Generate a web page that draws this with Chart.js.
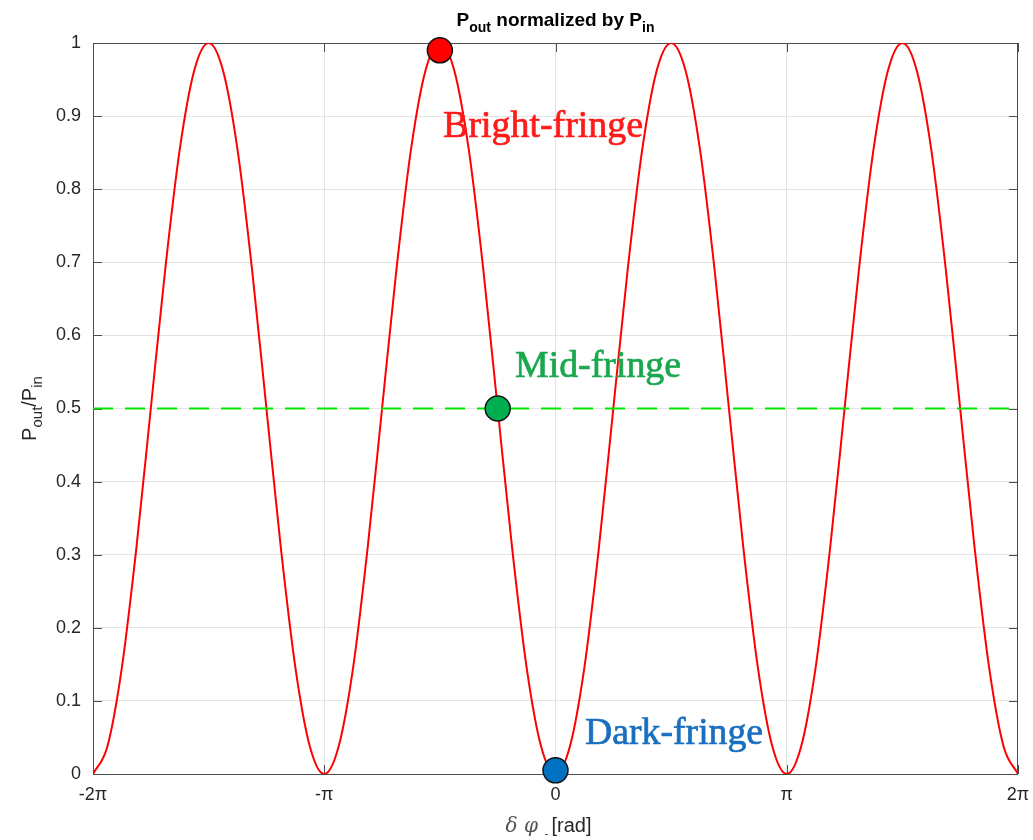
<!DOCTYPE html>
<html>
<head>
<meta charset="utf-8">
<script src="https://cdn.jsdelivr.net/npm/chart.js@4.4.1/dist/chart.umd.min.js"></script>
<style>
  html, body { margin: 0; padding: 0; background: #fff; }
  #wrap { width: 1033px; height: 840px; }
</style>
</head>
<body>
<div id="wrap"><canvas id="fringeChart" width="1033" height="840"></canvas></div>
<script>
// phase in units of pi, sampled every pi/16
var phase = [
  -2, -1.9375, -1.875, -1.8125, -1.75, -1.6875, -1.625, -1.5625,
  -1.5, -1.4375, -1.375, -1.3125, -1.25, -1.1875, -1.125, -1.0625,
  -1, -0.9375, -0.875, -0.8125, -0.75, -0.6875, -0.625, -0.5625,
  -0.5, -0.4375, -0.375, -0.3125, -0.25, -0.1875, -0.125, -0.0625,
  0, 0.0625, 0.125, 0.1875, 0.25, 0.3125, 0.375, 0.4375,
  0.5, 0.5625, 0.625, 0.6875, 0.75, 0.8125, 0.875, 0.9375,
  1, 1.0625, 1.125, 1.1875, 1.25, 1.3125, 1.375, 1.4375,
  1.5, 1.5625, 1.625, 1.6875, 1.75, 1.8125, 1.875, 1.9375, 2
];
var power = [
  0, 0.038, 0.146, 0.309, 0.5, 0.691, 0.854, 0.962,
  1, 0.962, 0.854, 0.691, 0.5, 0.309, 0.146, 0.038,
  0, 0.038, 0.146, 0.309, 0.5, 0.691, 0.854, 0.962,
  1, 0.962, 0.854, 0.691, 0.5, 0.309, 0.146, 0.038,
  0, 0.038, 0.146, 0.309, 0.5, 0.691, 0.854, 0.962,
  1, 0.962, 0.854, 0.691, 0.5, 0.309, 0.146, 0.038,
  0, 0.038, 0.146, 0.309, 0.5, 0.691, 0.854, 0.962,
  1, 0.962, 0.854, 0.691, 0.5, 0.309, 0.146, 0.038, 0
];

var midLevelX = [-2, 2];
var midLevelY = [0.5, 0.5];

var markerNames = ['Bright-fringe', 'Mid-fringe', 'Dark-fringe'];
var markerX = [-0.5, -0.25, 0];
var markerY = [0.99, 0.5, 0.005];
var markerColors = ['#ff0000', '#00b050', '#0070c0'];
var labelColors = ['#ff1a1a', '#1aa84f', '#1a6fbf'];
// where each label starts (phase, power)
var labelX = [-0.486, -0.175, 0.128];
var labelY = [0.871, 0.543, 0.041];
var labelWidths = [200, 166, 178];

var xTicks = [-2, -1, 0, 1, 2];
var xTickLabels = ['-2\u03c0', '-\u03c0', '0', '\u03c0', '2\u03c0'];
var yTicks = [0, 0.1, 0.2, 0.3, 0.4, 0.5, 0.6, 0.7, 0.8, 0.9, 1];

function toPoints(xs, ys) {
    var pts = [];
    for (var i = 0; i < xs.length; i++) {
        pts.push({ x: xs[i], y: ys[i] });
    }
    return pts;
}

var markerSets = [];
for (var m = 0; m < markerNames.length; m++) {
    markerSets.push({
        label: markerNames[m],
        data: [{ x: markerX[m], y: markerY[m] }],
        showLine: false,
        order: 0,
        pointRadius: 12.5,
        pointBackgroundColor: markerColors[m],
        pointBorderColor: '#111',
        pointBorderWidth: 1.5,
        clip: false
    });
}

var axisText = '#262626';

// box and inward ticks go under the data, text goes on top
var decorPlugin = {
    id: 'decor',
    beforeDatasetsDraw: function(chart) {
        var ctx = chart.ctx;
        var a = chart.chartArea;
        var xs = chart.scales.x;
        var ys = chart.scales.y;
        ctx.save();
        ctx.strokeStyle = '#4d4d4d';
        ctx.lineWidth = 1;
        ctx.strokeRect(a.left + 0.5, a.top + 0.5, a.right - a.left - 1, a.bottom - a.top);

        ctx.beginPath();
        for (var i = 0; i < xTicks.length; i++) {
            var px = Math.round(xs.getPixelForValue(xTicks[i])) + 0.5;
            ctx.moveTo(px, a.bottom); ctx.lineTo(px, a.bottom - 9);
            ctx.moveTo(px, a.top); ctx.lineTo(px, a.top + 9);
        }
        for (var j = 0; j < yTicks.length; j++) {
            var py = Math.round(ys.getPixelForValue(yTicks[j])) + 0.5;
            ctx.moveTo(a.left, py); ctx.lineTo(a.left + 9, py);
            ctx.moveTo(a.right, py); ctx.lineTo(a.right - 9, py);
        }
        ctx.stroke();
        ctx.restore();
    },
    afterDraw: function(chart) {
        var ctx = chart.ctx;
        var a = chart.chartArea;
        var xs = chart.scales.x;
        var ys = chart.scales.y;
        ctx.save();

        // title: P_out normalized by P_in
        ctx.fillStyle = '#000';
        ctx.textBaseline = 'alphabetic';
        var big = 'bold 19px "Liberation Sans", Arial, sans-serif';
        var small = 'bold 14px "Liberation Sans", Arial, sans-serif';
        var parts = [['P', big, 0], ['out', small, 6], [' normalized by P', big, 0], ['in', small, 6]];
        var total = 0;
        parts.forEach(function(p) { ctx.font = p[1]; total += ctx.measureText(p[0]).width; });
        var tx = xs.getPixelForValue(0) - total / 2;
        parts.forEach(function(p) {
            ctx.font = p[1];
            ctx.fillText(p[0], tx, 26 + p[2]);
            tx += ctx.measureText(p[0]).width;
        });

        // y label: P_out/P_in (rotated)
        ctx.fillStyle = axisText;
        ctx.save();
        ctx.translate(36, (a.top + a.bottom) / 2);
        ctx.rotate(-Math.PI / 2);
        var yb = '20px "Liberation Sans", Arial, sans-serif';
        var ysm = '15px "Liberation Sans", Arial, sans-serif';
        var yparts = [['P', yb, 0], ['out', ysm, 6], ['/P', yb, 0], ['in', ysm, 6]];
        var yt = 0;
        yparts.forEach(function(p) { ctx.font = p[1]; yt += ctx.measureText(p[0]).width; });
        var yx = -yt / 2;
        yparts.forEach(function(p) {
            ctx.font = p[1];
            ctx.fillText(p[0], yx, p[2]);
            yx += ctx.measureText(p[0]).width;
        });
        ctx.restore();

        // x label: δ φ_ [rad]
        var cx = xs.getPixelForValue(0);
        ctx.font = 'italic 20px "DejaVu Serif", serif';
        ctx.fillStyle = '#555';
        ctx.fillText('\u03b4 \u03c6', cx - 50, 832);
        ctx.font = '12px "Liberation Sans", Arial, sans-serif';
        ctx.fillText('-', cx - 11, 838);
        ctx.font = '20px "Liberation Sans", Arial, sans-serif';
        ctx.fillStyle = axisText;
        ctx.fillText('[rad]', cx - 4, 832);

        // fringe labels, fitted to their width in the reference
        for (var k = 0; k < markerNames.length; k++) {
            var fs = 30;
            var fam = 'px "Liberation Serif", "Times New Roman", serif';
            ctx.font = fs + fam;
            var w = ctx.measureText(markerNames[k]).width;
            fs = fs * labelWidths[k] / w;
            ctx.font = fs + fam;
            ctx.fillStyle = labelColors[k];
            ctx.strokeStyle = labelColors[k];
            ctx.lineWidth = 0.7;
            var lx = xs.getPixelForValue(labelX[k]);
            var ly = ys.getPixelForValue(labelY[k]);
            ctx.fillText(markerNames[k], lx, ly);
            ctx.strokeText(markerNames[k], lx, ly);
        }
        ctx.restore();
    }
};

new Chart(document.getElementById('fringeChart'), {
    type: 'scatter',
    data: {
        datasets: [
            {
                label: 'Pout/Pin',
                data: toPoints(phase, power),
                showLine: true,
                order: 2,
                borderColor: '#ff0000',
                borderWidth: 2,
                pointRadius: 0,
                tension: 0.4,
                cubicInterpolationMode: 'monotone'
            },
            {
                label: 'half level',
                data: toPoints(midLevelX, midLevelY),
                showLine: true,
                order: 1,
                borderColor: '#00e600',
                borderWidth: 2,
                borderDash: [20, 12],
                pointRadius: 0
            }
        ].concat(markerSets)
    },
    plugins: [decorPlugin],
    options: {
        responsive: false,
        animation: false,
        devicePixelRatio: 1,
        layout: { padding: { left: 0, top: 43, right: 15, bottom: 0 } },
        plugins: {
            legend: { display: false },
            tooltip: { enabled: false }
        },
        scales: {
            x: {
                type: 'linear',
                min: -2,
                max: 2,
                afterBuildTicks: function(scale) {
                    scale.ticks = xTicks.map(function(v) { return { value: v }; });
                },
                afterFit: function(scale) {
                    scale.height = 66;
                    scale.paddingLeft = 0;
                    scale.paddingRight = 0;
                },
                border: { display: false },
                grid: {
                    drawTicks: false,
                    color: function(c) {
                        return (c.tick && Math.abs(c.tick.value) === 2) ? 'rgba(0,0,0,0)' : '#e3e3e3';
                    }
                },
                ticks: {
                    padding: 10,
                    maxRotation: 0,
                    color: axisText,
                    font: { family: '"Liberation Sans", Arial, sans-serif', size: 18 },
                    callback: function(v) {
                        var i = xTicks.indexOf(v);
                        return i >= 0 ? xTickLabels[i] : '';
                    }
                }
            },
            y: {
                type: 'linear',
                min: 0,
                max: 1,
                afterBuildTicks: function(scale) {
                    scale.ticks = yTicks.map(function(v) { return { value: v }; });
                },
                afterFit: function(scale) {
                    scale.width = 93;
                    scale.paddingTop = 0;
                    scale.paddingBottom = 0;
                },
                border: { display: false },
                grid: {
                    drawTicks: false,
                    color: function(c) {
                        return (c.tick && (c.tick.value === 0 || c.tick.value === 1)) ? 'rgba(0,0,0,0)' : '#e3e3e3';
                    }
                },
                ticks: {
                    padding: 12,
                    color: axisText,
                    font: { family: '"Liberation Sans", Arial, sans-serif', size: 18 },
                    callback: function(v) { return String(v); }
                }
            }
        }
    }
});
</script>
</body>
</html>
